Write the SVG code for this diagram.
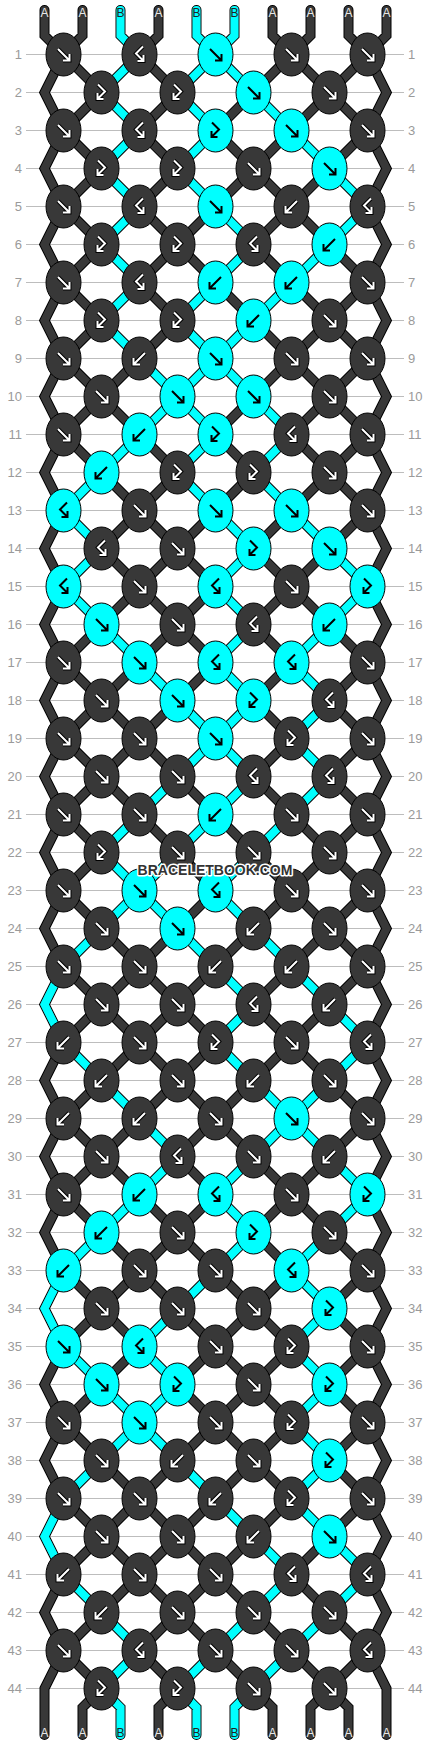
<svg xmlns="http://www.w3.org/2000/svg" xmlns:xlink="http://www.w3.org/1999/xlink" width="430" height="1744" viewBox="0 0 430 1744">
<style>
.rl{stroke:#bdbdbd;stroke-width:1;fill:none}
.ln text{font-family:"Liberation Sans",Arial,sans-serif;font-size:13px;fill:#9a9a9a}
.lt{text-anchor:end}
.rt{text-anchor:start}
.sl{font-family:"Liberation Sans",Arial,sans-serif;font-size:12px;text-anchor:middle}
.sa{fill:#e8e8e8}
.sb{fill:#222}
.d{fill:#383838;color:#fff;--o:#000}
.c{fill:#00ffff;color:#000;--o:#00ffff}
.wm{font-family:"Liberation Sans",Arial,sans-serif;font-weight:bold;font-size:14px;text-anchor:middle;fill:#333;stroke:#fff;stroke-width:3;paint-order:stroke;stroke-linejoin:round}
</style>
<defs>
<clipPath id="cl"><rect x="63.5" y="54.5" width="304" height="1634"/></clipPath>
<ellipse id="e" rx="17.5" ry="21.5" stroke="#000" stroke-width="1"/>
<g id="F" fill="none"><path d="M-5.5-5.5L5 5M6-0.5V6H-0.5" style="stroke:var(--o,#000)" stroke-width="4"/><path d="M-5.5-5.5L5 5M6-0.5V6H-0.5" stroke="currentColor" stroke-width="2"/></g>
<g id="B" fill="none"><path d="M5.5-5.5L-5 5M-6-0.5V6H0.5" style="stroke:var(--o,#000)" stroke-width="4"/><path d="M5.5-5.5L-5 5M-6-0.5V6H0.5" stroke="currentColor" stroke-width="2"/></g>
<g id="P" fill="none"><path d="M-3.5-8L3.5-1L-4 6.5M-4 0.5V6.5H2" style="stroke:var(--o,#000)" stroke-width="4"/><path d="M-3.5-8L3.5-1L-4 6.5M-4 0.5V6.5H2" stroke="currentColor" stroke-width="2"/></g>
<g id="Q" fill="none"><path d="M3.5-8L-3.5-1L4 6.5M4 0.5V6.5H-2" style="stroke:var(--o,#000)" stroke-width="4"/><path d="M3.5-8L-3.5-1L4 6.5M4 0.5V6.5H-2" stroke="currentColor" stroke-width="2"/></g>
<path id="L" fill="none" d="M63.5 -249.5l304 304M63.5 -173.5l304 304M63.5 -97.5l304 304M63.5 -21.5l304 304M63.5 54.5l304 304M63.5 130.5l304 304M63.5 206.5l304 304M63.5 282.5l304 304M63.5 358.5l304 304M63.5 434.5l304 304M63.5 510.5l304 304M63.5 586.5l304 304M63.5 662.5l304 304M63.5 738.5l304 304M63.5 814.5l304 304M63.5 890.5l304 304M63.5 966.5l304 304M63.5 1042.5l304 304M63.5 1118.5l304 304M63.5 1194.5l304 304M63.5 1270.5l304 304M63.5 1346.5l304 304M63.5 1422.5l304 304M63.5 1498.5l304 304M63.5 1574.5l304 304M63.5 1650.5l304 304M367.5 -249.5l-304 304M367.5 -173.5l-304 304M367.5 -97.5l-304 304M367.5 -21.5l-304 304M367.5 54.5l-304 304M367.5 130.5l-304 304M367.5 206.5l-304 304M367.5 282.5l-304 304M367.5 358.5l-304 304M367.5 434.5l-304 304M367.5 510.5l-304 304M367.5 586.5l-304 304M367.5 662.5l-304 304M367.5 738.5l-304 304M367.5 814.5l-304 304M367.5 890.5l-304 304M367.5 966.5l-304 304M367.5 1042.5l-304 304M367.5 1118.5l-304 304M367.5 1194.5l-304 304M367.5 1270.5l-304 304M367.5 1346.5l-304 304M367.5 1422.5l-304 304M367.5 1498.5l-304 304M367.5 1574.5l-304 304M367.5 1650.5l-304 304"/>
<path id="S" fill="none" d="M63.5 54.5l-19 38l19 38l-19 38l19 38l-19 38l19 38l-19 38l19 38l-19 38l19 38l-19 38l19 38l-19 38l19 38l-19 38l19 38l-19 38l19 38l-19 38l19 38l-19 38l19 38l-19 38l19 38l-19 38l19 38l-19 38l19 38l-19 38l19 38l-19 38l19 38l-19 38l19 38l-19 38l19 38l-19 38l19 38l-19 38l19 38l-19 38l19 38l-19 38V1735M367.5 54.5l19 38l-19 38l19 38l-19 38l19 38l-19 38l19 38l-19 38l19 38l-19 38l19 38l-19 38l19 38l-19 38l19 38l-19 38l19 38l-19 38l19 38l-19 38l19 38l-19 38l19 38l-19 38l19 38l-19 38l19 38l-19 38l19 38l-19 38l19 38l-19 38l19 38l-19 38l19 38l-19 38l19 38l-19 38l19 38l-19 38l19 38l-19 38l19 38V1735M44.5 10V35.5L63.5 54.5M82.5 10V35.5L63.5 54.5M120.5 10V35.5L139.5 54.5M158.5 10V35.5L139.5 54.5M196.5 10V35.5L215.5 54.5M234.5 10V35.5L215.5 54.5M272.5 10V35.5L291.5 54.5M310.5 10V35.5L291.5 54.5M348.5 10V35.5L367.5 54.5M386.5 10V35.5L367.5 54.5M101.5 1688.5L82.5 1707.5V1735M101.5 1688.5L120.5 1707.5V1735M177.5 1688.5L158.5 1707.5V1735M177.5 1688.5L196.5 1707.5V1735M253.5 1688.5L234.5 1707.5V1735M253.5 1688.5L272.5 1707.5V1735M329.5 1688.5L310.5 1707.5V1735M329.5 1688.5L348.5 1707.5V1735"/>
</defs>
<rect width="430" height="1744" fill="#fff"/>
<g id="rows">
<path class="rl" d="M26 54.5H404M26 92.5H404M26 130.5H404M26 168.5H404M26 206.5H404M26 244.5H404M26 282.5H404M26 320.5H404M26 358.5H404M26 396.5H404M26 434.5H404M26 472.5H404M26 510.5H404M26 548.5H404M26 586.5H404M26 624.5H404M26 662.5H404M26 700.5H404M26 738.5H404M26 776.5H404M26 814.5H404M26 852.5H404M26 890.5H404M26 928.5H404M26 966.5H404M26 1004.5H404M26 1042.5H404M26 1080.5H404M26 1118.5H404M26 1156.5H404M26 1194.5H404M26 1232.5H404M26 1270.5H404M26 1308.5H404M26 1346.5H404M26 1384.5H404M26 1422.5H404M26 1460.5H404M26 1498.5H404M26 1536.5H404M26 1574.5H404M26 1612.5H404M26 1650.5H404M26 1688.5H404"/>
<g class="ln">
<g class="lt"><text x="22" y="59">1</text><text x="22" y="97">2</text><text x="22" y="135">3</text><text x="22" y="173">4</text><text x="22" y="211">5</text><text x="22" y="249">6</text><text x="22" y="287">7</text><text x="22" y="325">8</text><text x="22" y="363">9</text><text x="22" y="401">10</text><text x="22" y="439">11</text><text x="22" y="477">12</text><text x="22" y="515">13</text><text x="22" y="553">14</text><text x="22" y="591">15</text><text x="22" y="629">16</text><text x="22" y="667">17</text><text x="22" y="705">18</text><text x="22" y="743">19</text><text x="22" y="781">20</text><text x="22" y="819">21</text><text x="22" y="857">22</text><text x="22" y="895">23</text><text x="22" y="933">24</text><text x="22" y="971">25</text><text x="22" y="1009">26</text><text x="22" y="1047">27</text><text x="22" y="1085">28</text><text x="22" y="1123">29</text><text x="22" y="1161">30</text><text x="22" y="1199">31</text><text x="22" y="1237">32</text><text x="22" y="1275">33</text><text x="22" y="1313">34</text><text x="22" y="1351">35</text><text x="22" y="1389">36</text><text x="22" y="1427">37</text><text x="22" y="1465">38</text><text x="22" y="1503">39</text><text x="22" y="1541">40</text><text x="22" y="1579">41</text><text x="22" y="1617">42</text><text x="22" y="1655">43</text><text x="22" y="1693">44</text></g>
<g class="rt"><text x="408" y="59">1</text><text x="408" y="97">2</text><text x="408" y="135">3</text><text x="408" y="173">4</text><text x="408" y="211">5</text><text x="408" y="249">6</text><text x="408" y="287">7</text><text x="408" y="325">8</text><text x="408" y="363">9</text><text x="408" y="401">10</text><text x="408" y="439">11</text><text x="408" y="477">12</text><text x="408" y="515">13</text><text x="408" y="553">14</text><text x="408" y="591">15</text><text x="408" y="629">16</text><text x="408" y="667">17</text><text x="408" y="705">18</text><text x="408" y="743">19</text><text x="408" y="781">20</text><text x="408" y="819">21</text><text x="408" y="857">22</text><text x="408" y="895">23</text><text x="408" y="933">24</text><text x="408" y="971">25</text><text x="408" y="1009">26</text><text x="408" y="1047">27</text><text x="408" y="1085">28</text><text x="408" y="1123">29</text><text x="408" y="1161">30</text><text x="408" y="1199">31</text><text x="408" y="1237">32</text><text x="408" y="1275">33</text><text x="408" y="1313">34</text><text x="408" y="1351">35</text><text x="408" y="1389">36</text><text x="408" y="1427">37</text><text x="408" y="1465">38</text><text x="408" y="1503">39</text><text x="408" y="1541">40</text><text x="408" y="1579">41</text><text x="408" y="1617">42</text><text x="408" y="1655">43</text><text x="408" y="1693">44</text></g>
</g>
</g>
<g id="connectors">
<use href="#L" clip-path="url(#cl)" stroke="#000" stroke-width="10"/>
<use href="#S" stroke="#000" stroke-width="10" stroke-linecap="round" stroke-linejoin="miter"/>
<use href="#L" clip-path="url(#cl)" stroke="#383838" stroke-width="8"/>
<use href="#S" stroke="#383838" stroke-width="8" stroke-linecap="round" stroke-linejoin="miter"/>
<path fill="none" stroke="#00ffff" stroke-width="8" stroke-linecap="round" stroke-linejoin="miter" d="M120.5 10V35.5L139.5 54.5M196.5 10V35.5L215.5 54.5M234.5 10V35.5L215.5 54.5M101.5 1688.5L120.5 1707.5V1735M177.5 1688.5L196.5 1707.5V1735M253.5 1688.5L234.5 1707.5V1735M63.5 966.5L44.5 1004.5L63.5 1042.5M63.5 1270.5L44.5 1308.5L63.5 1346.5M63.5 1498.5L44.5 1536.5L63.5 1574.5
M139.5 54.5l-38 38M215.5 54.5l-38 38M215.5 54.5l38 38
M101.5 92.5l38 38M177.5 92.5l38 38M253.5 92.5l38 38
M139.5 130.5l-38 38M215.5 130.5l-38 38M291.5 130.5l38 38
M101.5 168.5l38 38M177.5 168.5l38 38M329.5 168.5l38 38
M139.5 206.5l-38 38M215.5 206.5l38 38M367.5 206.5l-38 38
M101.5 244.5l38 38M253.5 244.5l-38 38M329.5 244.5l-38 38
M139.5 282.5l-38 38M215.5 282.5l-38 38M291.5 282.5l-38 38
M101.5 320.5l38 38M177.5 320.5l38 38M253.5 320.5l-38 38
M139.5 358.5l38 38M215.5 358.5l-38 38M215.5 358.5l38 38
M177.5 396.5l-38 38M177.5 396.5l38 38M253.5 396.5l38 38
M139.5 434.5l-38 38M215.5 434.5l-38 38M291.5 434.5l-38 38
M101.5 472.5l-38 38M177.5 472.5l38 38M253.5 472.5l38 38
M63.5 510.5l38 38M215.5 510.5l38 38M291.5 510.5l38 38
M101.5 548.5l-38 38M253.5 548.5l-38 38M329.5 548.5l38 38
M63.5 586.5l38 38M215.5 586.5l38 38M367.5 586.5l-38 38
M101.5 624.5l38 38M253.5 624.5l-38 38M329.5 624.5l-38 38
M139.5 662.5l38 38M215.5 662.5l38 38M291.5 662.5l38 38
M177.5 700.5l38 38M253.5 700.5l-38 38M329.5 700.5l-38 38
M215.5 738.5l-38 38M215.5 738.5l38 38M291.5 738.5l38 38
M177.5 776.5l-38 38M253.5 776.5l-38 38M329.5 776.5l-38 38
M139.5 814.5l-38 38M215.5 814.5l-38 38M291.5 814.5l-38 38
M101.5 852.5l38 38M177.5 852.5l-38 38M253.5 852.5l-38 38
M139.5 890.5l-38 38M139.5 890.5l38 38M215.5 890.5l38 38
M101.5 928.5l-38 38M177.5 928.5l38 38M253.5 928.5l38 38
M215.5 966.5l38 38M291.5 966.5l38 38
M253.5 1004.5l-38 38M329.5 1004.5l38 38
M63.5 1042.5l38 38M215.5 1042.5l38 38M367.5 1042.5l-38 38
M101.5 1080.5l38 38M253.5 1080.5l38 38M329.5 1080.5l-38 38
M139.5 1118.5l38 38M291.5 1118.5l-38 38M291.5 1118.5l38 38
M177.5 1156.5l-38 38M253.5 1156.5l-38 38M329.5 1156.5l38 38
M139.5 1194.5l-38 38M215.5 1194.5l38 38M367.5 1194.5l-38 38
M101.5 1232.5l-38 38M253.5 1232.5l-38 38M329.5 1232.5l-38 38
M215.5 1270.5l-38 38M291.5 1270.5l38 38
M177.5 1308.5l-38 38M329.5 1308.5l-38 38
M63.5 1346.5l38 38M139.5 1346.5l38 38M291.5 1346.5l38 38
M101.5 1384.5l38 38M177.5 1384.5l-38 38M329.5 1384.5l-38 38
M139.5 1422.5l-38 38M139.5 1422.5l38 38M291.5 1422.5l38 38
M101.5 1460.5l-38 38M177.5 1460.5l38 38M329.5 1460.5l-38 38
M215.5 1498.5l38 38M291.5 1498.5l38 38
M253.5 1536.5l38 38M329.5 1536.5l38 38
M63.5 1574.5l38 38M291.5 1574.5l-38 38M367.5 1574.5l-38 38
M101.5 1612.5l38 38M253.5 1612.5l-38 38M329.5 1612.5l-38 38
M139.5 1650.5l-38 38M215.5 1650.5l-38 38M291.5 1650.5l-38 38"/>
</g>
<g id="string-labels" class="sl">
<text class="sa" x="44.5" y="17">A</text><text class="sa" x="82.5" y="17">A</text><text class="sb" x="120.5" y="17">B</text><text class="sa" x="158.5" y="17">A</text><text class="sb" x="196.5" y="17">B</text><text class="sb" x="234.5" y="17">B</text><text class="sa" x="272.5" y="17">A</text><text class="sa" x="310.5" y="17">A</text><text class="sa" x="348.5" y="17">A</text><text class="sa" x="386.5" y="17">A</text>
<text class="sa" x="44.5" y="1737">A</text><text class="sa" x="82.5" y="1737">A</text><text class="sb" x="120.5" y="1737">B</text><text class="sa" x="158.5" y="1737">A</text><text class="sb" x="196.5" y="1737">B</text><text class="sb" x="234.5" y="1737">B</text><text class="sa" x="272.5" y="1737">A</text><text class="sa" x="310.5" y="1737">A</text><text class="sa" x="348.5" y="1737">A</text><text class="sa" x="386.5" y="1737">A</text>
</g>
<g id="knots">
<g id="r1k1" class="d" transform="translate(63.5 54.5)"><use href="#e"/><use href="#F"/></g>
<g id="r1k2" class="d" transform="translate(139.5 54.5)"><use href="#e"/><use href="#Q"/></g>
<g id="r1k3" class="c" transform="translate(215.5 54.5)"><use href="#e"/><use href="#F"/></g>
<g id="r1k4" class="d" transform="translate(291.5 54.5)"><use href="#e"/><use href="#F"/></g>
<g id="r1k5" class="d" transform="translate(367.5 54.5)"><use href="#e"/><use href="#F"/></g>
<g id="r2k1" class="d" transform="translate(101.5 92.5)"><use href="#e"/><use href="#P"/></g>
<g id="r2k2" class="d" transform="translate(177.5 92.5)"><use href="#e"/><use href="#P"/></g>
<g id="r2k3" class="c" transform="translate(253.5 92.5)"><use href="#e"/><use href="#F"/></g>
<g id="r2k4" class="d" transform="translate(329.5 92.5)"><use href="#e"/><use href="#F"/></g>
<g id="r3k1" class="d" transform="translate(63.5 130.5)"><use href="#e"/><use href="#F"/></g>
<g id="r3k2" class="d" transform="translate(139.5 130.5)"><use href="#e"/><use href="#Q"/></g>
<g id="r3k3" class="c" transform="translate(215.5 130.5)"><use href="#e"/><use href="#P"/></g>
<g id="r3k4" class="c" transform="translate(291.5 130.5)"><use href="#e"/><use href="#F"/></g>
<g id="r3k5" class="d" transform="translate(367.5 130.5)"><use href="#e"/><use href="#F"/></g>
<g id="r4k1" class="d" transform="translate(101.5 168.5)"><use href="#e"/><use href="#P"/></g>
<g id="r4k2" class="d" transform="translate(177.5 168.5)"><use href="#e"/><use href="#P"/></g>
<g id="r4k3" class="d" transform="translate(253.5 168.5)"><use href="#e"/><use href="#F"/></g>
<g id="r4k4" class="c" transform="translate(329.5 168.5)"><use href="#e"/><use href="#F"/></g>
<g id="r5k1" class="d" transform="translate(63.5 206.5)"><use href="#e"/><use href="#F"/></g>
<g id="r5k2" class="d" transform="translate(139.5 206.5)"><use href="#e"/><use href="#Q"/></g>
<g id="r5k3" class="c" transform="translate(215.5 206.5)"><use href="#e"/><use href="#F"/></g>
<g id="r5k4" class="d" transform="translate(291.5 206.5)"><use href="#e"/><use href="#B"/></g>
<g id="r5k5" class="d" transform="translate(367.5 206.5)"><use href="#e"/><use href="#Q"/></g>
<g id="r6k1" class="d" transform="translate(101.5 244.5)"><use href="#e"/><use href="#P"/></g>
<g id="r6k2" class="d" transform="translate(177.5 244.5)"><use href="#e"/><use href="#P"/></g>
<g id="r6k3" class="d" transform="translate(253.5 244.5)"><use href="#e"/><use href="#Q"/></g>
<g id="r6k4" class="c" transform="translate(329.5 244.5)"><use href="#e"/><use href="#B"/></g>
<g id="r7k1" class="d" transform="translate(63.5 282.5)"><use href="#e"/><use href="#F"/></g>
<g id="r7k2" class="d" transform="translate(139.5 282.5)"><use href="#e"/><use href="#Q"/></g>
<g id="r7k3" class="c" transform="translate(215.5 282.5)"><use href="#e"/><use href="#B"/></g>
<g id="r7k4" class="c" transform="translate(291.5 282.5)"><use href="#e"/><use href="#B"/></g>
<g id="r7k5" class="d" transform="translate(367.5 282.5)"><use href="#e"/><use href="#F"/></g>
<g id="r8k1" class="d" transform="translate(101.5 320.5)"><use href="#e"/><use href="#P"/></g>
<g id="r8k2" class="d" transform="translate(177.5 320.5)"><use href="#e"/><use href="#P"/></g>
<g id="r8k3" class="c" transform="translate(253.5 320.5)"><use href="#e"/><use href="#B"/></g>
<g id="r8k4" class="d" transform="translate(329.5 320.5)"><use href="#e"/><use href="#F"/></g>
<g id="r9k1" class="d" transform="translate(63.5 358.5)"><use href="#e"/><use href="#F"/></g>
<g id="r9k2" class="d" transform="translate(139.5 358.5)"><use href="#e"/><use href="#B"/></g>
<g id="r9k3" class="c" transform="translate(215.5 358.5)"><use href="#e"/><use href="#F"/></g>
<g id="r9k4" class="d" transform="translate(291.5 358.5)"><use href="#e"/><use href="#F"/></g>
<g id="r9k5" class="d" transform="translate(367.5 358.5)"><use href="#e"/><use href="#F"/></g>
<g id="r10k1" class="d" transform="translate(101.5 396.5)"><use href="#e"/><use href="#F"/></g>
<g id="r10k2" class="c" transform="translate(177.5 396.5)"><use href="#e"/><use href="#F"/></g>
<g id="r10k3" class="c" transform="translate(253.5 396.5)"><use href="#e"/><use href="#F"/></g>
<g id="r10k4" class="d" transform="translate(329.5 396.5)"><use href="#e"/><use href="#F"/></g>
<g id="r11k1" class="d" transform="translate(63.5 434.5)"><use href="#e"/><use href="#F"/></g>
<g id="r11k2" class="c" transform="translate(139.5 434.5)"><use href="#e"/><use href="#B"/></g>
<g id="r11k3" class="c" transform="translate(215.5 434.5)"><use href="#e"/><use href="#P"/></g>
<g id="r11k4" class="d" transform="translate(291.5 434.5)"><use href="#e"/><use href="#Q"/></g>
<g id="r11k5" class="d" transform="translate(367.5 434.5)"><use href="#e"/><use href="#F"/></g>
<g id="r12k1" class="c" transform="translate(101.5 472.5)"><use href="#e"/><use href="#B"/></g>
<g id="r12k2" class="d" transform="translate(177.5 472.5)"><use href="#e"/><use href="#P"/></g>
<g id="r12k3" class="d" transform="translate(253.5 472.5)"><use href="#e"/><use href="#P"/></g>
<g id="r12k4" class="d" transform="translate(329.5 472.5)"><use href="#e"/><use href="#F"/></g>
<g id="r13k1" class="c" transform="translate(63.5 510.5)"><use href="#e"/><use href="#Q"/></g>
<g id="r13k2" class="d" transform="translate(139.5 510.5)"><use href="#e"/><use href="#F"/></g>
<g id="r13k3" class="c" transform="translate(215.5 510.5)"><use href="#e"/><use href="#F"/></g>
<g id="r13k4" class="c" transform="translate(291.5 510.5)"><use href="#e"/><use href="#F"/></g>
<g id="r13k5" class="d" transform="translate(367.5 510.5)"><use href="#e"/><use href="#F"/></g>
<g id="r14k1" class="d" transform="translate(101.5 548.5)"><use href="#e"/><use href="#Q"/></g>
<g id="r14k2" class="d" transform="translate(177.5 548.5)"><use href="#e"/><use href="#F"/></g>
<g id="r14k3" class="c" transform="translate(253.5 548.5)"><use href="#e"/><use href="#P"/></g>
<g id="r14k4" class="c" transform="translate(329.5 548.5)"><use href="#e"/><use href="#F"/></g>
<g id="r15k1" class="c" transform="translate(63.5 586.5)"><use href="#e"/><use href="#Q"/></g>
<g id="r15k2" class="d" transform="translate(139.5 586.5)"><use href="#e"/><use href="#F"/></g>
<g id="r15k3" class="c" transform="translate(215.5 586.5)"><use href="#e"/><use href="#Q"/></g>
<g id="r15k4" class="d" transform="translate(291.5 586.5)"><use href="#e"/><use href="#F"/></g>
<g id="r15k5" class="c" transform="translate(367.5 586.5)"><use href="#e"/><use href="#P"/></g>
<g id="r16k1" class="c" transform="translate(101.5 624.5)"><use href="#e"/><use href="#F"/></g>
<g id="r16k2" class="d" transform="translate(177.5 624.5)"><use href="#e"/><use href="#F"/></g>
<g id="r16k3" class="d" transform="translate(253.5 624.5)"><use href="#e"/><use href="#Q"/></g>
<g id="r16k4" class="c" transform="translate(329.5 624.5)"><use href="#e"/><use href="#B"/></g>
<g id="r17k1" class="d" transform="translate(63.5 662.5)"><use href="#e"/><use href="#F"/></g>
<g id="r17k2" class="c" transform="translate(139.5 662.5)"><use href="#e"/><use href="#F"/></g>
<g id="r17k3" class="c" transform="translate(215.5 662.5)"><use href="#e"/><use href="#Q"/></g>
<g id="r17k4" class="c" transform="translate(291.5 662.5)"><use href="#e"/><use href="#Q"/></g>
<g id="r17k5" class="d" transform="translate(367.5 662.5)"><use href="#e"/><use href="#F"/></g>
<g id="r18k1" class="d" transform="translate(101.5 700.5)"><use href="#e"/><use href="#F"/></g>
<g id="r18k2" class="c" transform="translate(177.5 700.5)"><use href="#e"/><use href="#F"/></g>
<g id="r18k3" class="c" transform="translate(253.5 700.5)"><use href="#e"/><use href="#P"/></g>
<g id="r18k4" class="d" transform="translate(329.5 700.5)"><use href="#e"/><use href="#Q"/></g>
<g id="r19k1" class="d" transform="translate(63.5 738.5)"><use href="#e"/><use href="#F"/></g>
<g id="r19k2" class="d" transform="translate(139.5 738.5)"><use href="#e"/><use href="#F"/></g>
<g id="r19k3" class="c" transform="translate(215.5 738.5)"><use href="#e"/><use href="#F"/></g>
<g id="r19k4" class="d" transform="translate(291.5 738.5)"><use href="#e"/><use href="#P"/></g>
<g id="r19k5" class="d" transform="translate(367.5 738.5)"><use href="#e"/><use href="#F"/></g>
<g id="r20k1" class="d" transform="translate(101.5 776.5)"><use href="#e"/><use href="#F"/></g>
<g id="r20k2" class="d" transform="translate(177.5 776.5)"><use href="#e"/><use href="#F"/></g>
<g id="r20k3" class="d" transform="translate(253.5 776.5)"><use href="#e"/><use href="#Q"/></g>
<g id="r20k4" class="d" transform="translate(329.5 776.5)"><use href="#e"/><use href="#Q"/></g>
<g id="r21k1" class="d" transform="translate(63.5 814.5)"><use href="#e"/><use href="#F"/></g>
<g id="r21k2" class="d" transform="translate(139.5 814.5)"><use href="#e"/><use href="#F"/></g>
<g id="r21k3" class="c" transform="translate(215.5 814.5)"><use href="#e"/><use href="#B"/></g>
<g id="r21k4" class="d" transform="translate(291.5 814.5)"><use href="#e"/><use href="#F"/></g>
<g id="r21k5" class="d" transform="translate(367.5 814.5)"><use href="#e"/><use href="#F"/></g>
<g id="r22k1" class="d" transform="translate(101.5 852.5)"><use href="#e"/><use href="#P"/></g>
<g id="r22k2" class="d" transform="translate(177.5 852.5)"><use href="#e"/><use href="#F"/></g>
<g id="r22k3" class="d" transform="translate(253.5 852.5)"><use href="#e"/><use href="#F"/></g>
<g id="r22k4" class="d" transform="translate(329.5 852.5)"><use href="#e"/><use href="#F"/></g>
<g id="r23k1" class="d" transform="translate(63.5 890.5)"><use href="#e"/><use href="#F"/></g>
<g id="r23k2" class="c" transform="translate(139.5 890.5)"><use href="#e"/><use href="#F"/></g>
<g id="r23k3" class="c" transform="translate(215.5 890.5)"><use href="#e"/><use href="#Q"/></g>
<g id="r23k4" class="d" transform="translate(291.5 890.5)"><use href="#e"/><use href="#F"/></g>
<g id="r23k5" class="d" transform="translate(367.5 890.5)"><use href="#e"/><use href="#F"/></g>
<g id="r24k1" class="d" transform="translate(101.5 928.5)"><use href="#e"/><use href="#F"/></g>
<g id="r24k2" class="c" transform="translate(177.5 928.5)"><use href="#e"/><use href="#F"/></g>
<g id="r24k3" class="d" transform="translate(253.5 928.5)"><use href="#e"/><use href="#B"/></g>
<g id="r24k4" class="d" transform="translate(329.5 928.5)"><use href="#e"/><use href="#F"/></g>
<g id="r25k1" class="d" transform="translate(63.5 966.5)"><use href="#e"/><use href="#F"/></g>
<g id="r25k2" class="d" transform="translate(139.5 966.5)"><use href="#e"/><use href="#F"/></g>
<g id="r25k3" class="d" transform="translate(215.5 966.5)"><use href="#e"/><use href="#B"/></g>
<g id="r25k4" class="d" transform="translate(291.5 966.5)"><use href="#e"/><use href="#B"/></g>
<g id="r25k5" class="d" transform="translate(367.5 966.5)"><use href="#e"/><use href="#F"/></g>
<g id="r26k1" class="d" transform="translate(101.5 1004.5)"><use href="#e"/><use href="#F"/></g>
<g id="r26k2" class="d" transform="translate(177.5 1004.5)"><use href="#e"/><use href="#F"/></g>
<g id="r26k3" class="d" transform="translate(253.5 1004.5)"><use href="#e"/><use href="#Q"/></g>
<g id="r26k4" class="d" transform="translate(329.5 1004.5)"><use href="#e"/><use href="#B"/></g>
<g id="r27k1" class="d" transform="translate(63.5 1042.5)"><use href="#e"/><use href="#B"/></g>
<g id="r27k2" class="d" transform="translate(139.5 1042.5)"><use href="#e"/><use href="#F"/></g>
<g id="r27k3" class="d" transform="translate(215.5 1042.5)"><use href="#e"/><use href="#P"/></g>
<g id="r27k4" class="d" transform="translate(291.5 1042.5)"><use href="#e"/><use href="#F"/></g>
<g id="r27k5" class="d" transform="translate(367.5 1042.5)"><use href="#e"/><use href="#Q"/></g>
<g id="r28k1" class="d" transform="translate(101.5 1080.5)"><use href="#e"/><use href="#B"/></g>
<g id="r28k2" class="d" transform="translate(177.5 1080.5)"><use href="#e"/><use href="#F"/></g>
<g id="r28k3" class="d" transform="translate(253.5 1080.5)"><use href="#e"/><use href="#B"/></g>
<g id="r28k4" class="d" transform="translate(329.5 1080.5)"><use href="#e"/><use href="#F"/></g>
<g id="r29k1" class="d" transform="translate(63.5 1118.5)"><use href="#e"/><use href="#B"/></g>
<g id="r29k2" class="d" transform="translate(139.5 1118.5)"><use href="#e"/><use href="#B"/></g>
<g id="r29k3" class="d" transform="translate(215.5 1118.5)"><use href="#e"/><use href="#F"/></g>
<g id="r29k4" class="c" transform="translate(291.5 1118.5)"><use href="#e"/><use href="#F"/></g>
<g id="r29k5" class="d" transform="translate(367.5 1118.5)"><use href="#e"/><use href="#F"/></g>
<g id="r30k1" class="d" transform="translate(101.5 1156.5)"><use href="#e"/><use href="#F"/></g>
<g id="r30k2" class="d" transform="translate(177.5 1156.5)"><use href="#e"/><use href="#Q"/></g>
<g id="r30k3" class="d" transform="translate(253.5 1156.5)"><use href="#e"/><use href="#F"/></g>
<g id="r30k4" class="d" transform="translate(329.5 1156.5)"><use href="#e"/><use href="#B"/></g>
<g id="r31k1" class="d" transform="translate(63.5 1194.5)"><use href="#e"/><use href="#F"/></g>
<g id="r31k2" class="c" transform="translate(139.5 1194.5)"><use href="#e"/><use href="#B"/></g>
<g id="r31k3" class="c" transform="translate(215.5 1194.5)"><use href="#e"/><use href="#Q"/></g>
<g id="r31k4" class="d" transform="translate(291.5 1194.5)"><use href="#e"/><use href="#F"/></g>
<g id="r31k5" class="c" transform="translate(367.5 1194.5)"><use href="#e"/><use href="#P"/></g>
<g id="r32k1" class="c" transform="translate(101.5 1232.5)"><use href="#e"/><use href="#B"/></g>
<g id="r32k2" class="d" transform="translate(177.5 1232.5)"><use href="#e"/><use href="#F"/></g>
<g id="r32k3" class="c" transform="translate(253.5 1232.5)"><use href="#e"/><use href="#P"/></g>
<g id="r32k4" class="d" transform="translate(329.5 1232.5)"><use href="#e"/><use href="#F"/></g>
<g id="r33k1" class="c" transform="translate(63.5 1270.5)"><use href="#e"/><use href="#B"/></g>
<g id="r33k2" class="d" transform="translate(139.5 1270.5)"><use href="#e"/><use href="#F"/></g>
<g id="r33k3" class="d" transform="translate(215.5 1270.5)"><use href="#e"/><use href="#F"/></g>
<g id="r33k4" class="c" transform="translate(291.5 1270.5)"><use href="#e"/><use href="#Q"/></g>
<g id="r33k5" class="d" transform="translate(367.5 1270.5)"><use href="#e"/><use href="#F"/></g>
<g id="r34k1" class="d" transform="translate(101.5 1308.5)"><use href="#e"/><use href="#F"/></g>
<g id="r34k2" class="d" transform="translate(177.5 1308.5)"><use href="#e"/><use href="#F"/></g>
<g id="r34k3" class="d" transform="translate(253.5 1308.5)"><use href="#e"/><use href="#F"/></g>
<g id="r34k4" class="c" transform="translate(329.5 1308.5)"><use href="#e"/><use href="#P"/></g>
<g id="r35k1" class="c" transform="translate(63.5 1346.5)"><use href="#e"/><use href="#F"/></g>
<g id="r35k2" class="c" transform="translate(139.5 1346.5)"><use href="#e"/><use href="#Q"/></g>
<g id="r35k3" class="d" transform="translate(215.5 1346.5)"><use href="#e"/><use href="#F"/></g>
<g id="r35k4" class="d" transform="translate(291.5 1346.5)"><use href="#e"/><use href="#P"/></g>
<g id="r35k5" class="d" transform="translate(367.5 1346.5)"><use href="#e"/><use href="#F"/></g>
<g id="r36k1" class="c" transform="translate(101.5 1384.5)"><use href="#e"/><use href="#F"/></g>
<g id="r36k2" class="c" transform="translate(177.5 1384.5)"><use href="#e"/><use href="#P"/></g>
<g id="r36k3" class="d" transform="translate(253.5 1384.5)"><use href="#e"/><use href="#F"/></g>
<g id="r36k4" class="c" transform="translate(329.5 1384.5)"><use href="#e"/><use href="#P"/></g>
<g id="r37k1" class="d" transform="translate(63.5 1422.5)"><use href="#e"/><use href="#F"/></g>
<g id="r37k2" class="c" transform="translate(139.5 1422.5)"><use href="#e"/><use href="#F"/></g>
<g id="r37k3" class="d" transform="translate(215.5 1422.5)"><use href="#e"/><use href="#F"/></g>
<g id="r37k4" class="d" transform="translate(291.5 1422.5)"><use href="#e"/><use href="#P"/></g>
<g id="r37k5" class="d" transform="translate(367.5 1422.5)"><use href="#e"/><use href="#F"/></g>
<g id="r38k1" class="d" transform="translate(101.5 1460.5)"><use href="#e"/><use href="#F"/></g>
<g id="r38k2" class="d" transform="translate(177.5 1460.5)"><use href="#e"/><use href="#B"/></g>
<g id="r38k3" class="d" transform="translate(253.5 1460.5)"><use href="#e"/><use href="#F"/></g>
<g id="r38k4" class="c" transform="translate(329.5 1460.5)"><use href="#e"/><use href="#P"/></g>
<g id="r39k1" class="d" transform="translate(63.5 1498.5)"><use href="#e"/><use href="#F"/></g>
<g id="r39k2" class="d" transform="translate(139.5 1498.5)"><use href="#e"/><use href="#F"/></g>
<g id="r39k3" class="d" transform="translate(215.5 1498.5)"><use href="#e"/><use href="#B"/></g>
<g id="r39k4" class="d" transform="translate(291.5 1498.5)"><use href="#e"/><use href="#P"/></g>
<g id="r39k5" class="d" transform="translate(367.5 1498.5)"><use href="#e"/><use href="#F"/></g>
<g id="r40k1" class="d" transform="translate(101.5 1536.5)"><use href="#e"/><use href="#F"/></g>
<g id="r40k2" class="d" transform="translate(177.5 1536.5)"><use href="#e"/><use href="#F"/></g>
<g id="r40k3" class="d" transform="translate(253.5 1536.5)"><use href="#e"/><use href="#B"/></g>
<g id="r40k4" class="c" transform="translate(329.5 1536.5)"><use href="#e"/><use href="#F"/></g>
<g id="r41k1" class="d" transform="translate(63.5 1574.5)"><use href="#e"/><use href="#B"/></g>
<g id="r41k2" class="d" transform="translate(139.5 1574.5)"><use href="#e"/><use href="#F"/></g>
<g id="r41k3" class="d" transform="translate(215.5 1574.5)"><use href="#e"/><use href="#F"/></g>
<g id="r41k4" class="d" transform="translate(291.5 1574.5)"><use href="#e"/><use href="#Q"/></g>
<g id="r41k5" class="d" transform="translate(367.5 1574.5)"><use href="#e"/><use href="#Q"/></g>
<g id="r42k1" class="d" transform="translate(101.5 1612.5)"><use href="#e"/><use href="#B"/></g>
<g id="r42k2" class="d" transform="translate(177.5 1612.5)"><use href="#e"/><use href="#F"/></g>
<g id="r42k3" class="d" transform="translate(253.5 1612.5)"><use href="#e"/><use href="#F"/></g>
<g id="r42k4" class="d" transform="translate(329.5 1612.5)"><use href="#e"/><use href="#F"/></g>
<g id="r43k1" class="d" transform="translate(63.5 1650.5)"><use href="#e"/><use href="#F"/></g>
<g id="r43k2" class="d" transform="translate(139.5 1650.5)"><use href="#e"/><use href="#Q"/></g>
<g id="r43k3" class="d" transform="translate(215.5 1650.5)"><use href="#e"/><use href="#F"/></g>
<g id="r43k4" class="d" transform="translate(291.5 1650.5)"><use href="#e"/><use href="#F"/></g>
<g id="r43k5" class="d" transform="translate(367.5 1650.5)"><use href="#e"/><use href="#Q"/></g>
<g id="r44k1" class="d" transform="translate(101.5 1688.5)"><use href="#e"/><use href="#P"/></g>
<g id="r44k2" class="d" transform="translate(177.5 1688.5)"><use href="#e"/><use href="#P"/></g>
<g id="r44k3" class="d" transform="translate(253.5 1688.5)"><use href="#e"/><use href="#F"/></g>
<g id="r44k4" class="d" transform="translate(329.5 1688.5)"><use href="#e"/><use href="#F"/></g>
</g>
<text class="wm" x="215" y="875">BRACELETBOOK.COM</text>
</svg>
